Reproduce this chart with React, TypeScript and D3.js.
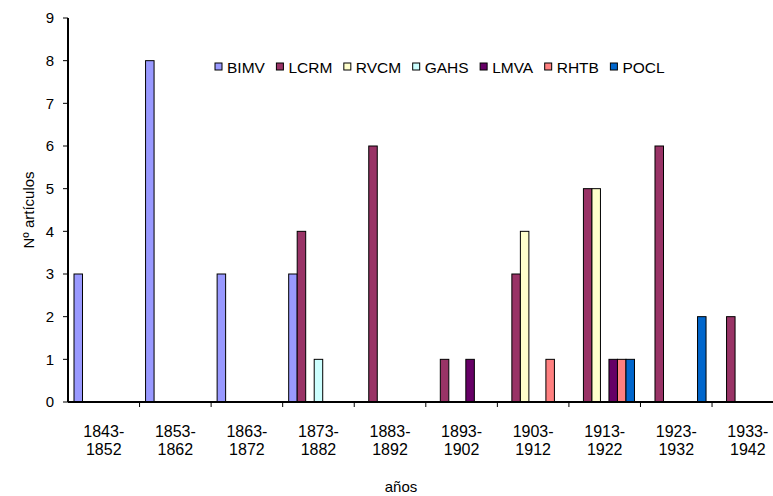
import React, { useEffect, useRef } from "react";
import * as d3 from "d3";

const categories = ["1843-1852", "1853-1862", "1863-1872", "1873-1882", "1883-1892", "1893-1902", "1903-1912", "1913-1922", "1923-1932", "1933-1942"];
const seriesNames = ["BIMV", "LCRM", "RVCM", "GAHS", "LMVA", "RHTB", "POCL"];
const seriesColors = ["#9999FF", "#993366", "#FFFFCC", "#CCFFFF", "#660066", "#FF8080", "#0066CC"];
const BIMV = [3, 8, 3, 3, 0, 0, 0, 0, 0, 0];
const LCRM = [0, 0, 0, 4, 6, 1, 3, 5, 6, 2];
const RVCM = [0, 0, 0, 0, 0, 0, 4, 5, 0, 0];
const GAHS = [0, 0, 0, 1, 0, 0, 0, 0, 0, 0];
const LMVA = [0, 0, 0, 0, 0, 1, 0, 1, 0, 0];
const RHTB = [0, 0, 0, 0, 0, 0, 1, 1, 0, 0];
const POCL = [0, 0, 0, 0, 0, 0, 0, 1, 2, 0];
const seriesValues = [BIMV, LCRM, RVCM, GAHS, LMVA, RHTB, POCL];
const yTicks = [0, 1, 2, 3, 4, 5, 6, 7, 8, 9];

const W = 773;
const H = 496;
const FONT = "'Liberation Sans', Arial, sans-serif";

export default function App() {
  const ref = useRef<SVGSVGElement>(null);
  useEffect(() => {
    const svg = d3.select(ref.current);
    svg.selectAll("*").remove();
    const left = 68;
    const catW = 71.56;
    const top = 18;
    const bottom = 402;
    const x0 = d3.scaleBand<string>().domain(categories).range([left, left + catW * categories.length]).padding(0);
    const x1 = d3.scaleBand<string>().domain(seriesNames).range([6, catW - 6]).padding(0);
    const y = d3.scaleLinear().domain([0, 9]).range([bottom, top]);

    // bars
    seriesNames.forEach((s, si) => {
      const vals = seriesValues[si];
      svg.append("g")
        .selectAll("rect")
        .data(categories.map((c, i) => ({ c, v: vals[i] })).filter((d) => d.v > 0))
        .join("rect")
        .attr("x", (d) => (x0(d.c) as number) + (x1(s) as number))
        .attr("y", (d) => y(d.v))
        .attr("width", x1.bandwidth())
        .attr("height", (d) => bottom - y(d.v))
        .attr("fill", seriesColors[si])
        .attr("stroke", "#000")
        .attr("stroke-width", 1);
    });

    // y axis
    svg.append("line").attr("x1", left).attr("x2", left).attr("y1", top).attr("y2", bottom).attr("stroke", "#000").attr("stroke-width", 2);
    const yt = svg.append("g");
    yTicks.forEach((t) => {
      yt.append("line").attr("x1", left - 5).attr("x2", left).attr("y1", y(t)).attr("y2", y(t)).attr("stroke", "#000").attr("stroke-width", 1);
      yt.append("text").attr("x", left - 14).attr("y", y(t)).attr("dy", "0.36em").attr("text-anchor", "end")
        .attr("font-family", FONT).attr("font-size", 15).attr("fill", "#000").text(String(t));
    });

    // x axis
    svg.append("line").attr("x1", left).attr("x2", W).attr("y1", bottom).attr("y2", bottom).attr("stroke", "#000").attr("stroke-width", 2);
    categories.forEach((c, i) => {
      const bx = x0(c) as number;
      if (i > 0) {
        svg.append("line").attr("x1", bx).attr("x2", bx).attr("y1", bottom).attr("y2", bottom + 5).attr("stroke", "#000").attr("stroke-width", 1);
      }
      const parts = c.split("-");
      const cx = bx + x0.bandwidth() / 2;
      const t = svg.append("text").attr("text-anchor", "middle").attr("font-family", FONT).attr("font-size", 16).attr("fill", "#000");
      t.append("tspan").attr("x", cx).attr("y", 437).text(parts[0] + "-");
      t.append("tspan").attr("x", cx).attr("y", 455).text(parts[1]);
    });

    // axis titles
    svg.append("text").attr("x", 401).attr("y", 492).attr("text-anchor", "middle").attr("font-family", FONT).attr("font-size", 15).attr("fill", "#000").text("años");
    svg.append("text").attr("transform", `translate(34,${(top + bottom) / 2}) rotate(-90)`).attr("text-anchor", "middle")
      .attr("font-family", FONT).attr("font-size", 15).attr("fill", "#000").text("Nº artículos");

    // legend
    const lg = svg.append("g");
    let lx = 215;
    const ly = 67;
    seriesNames.forEach((s, si) => {
      lg.append("rect").attr("x", lx).attr("y", ly - 4).attr("width", 7).attr("height", 7)
        .attr("fill", seriesColors[si]).attr("stroke", "#000").attr("stroke-width", 1);
      const t = lg.append("text").attr("x", lx + 12).attr("y", ly).attr("dy", "0.36em")
        .attr("font-family", FONT).attr("font-size", 15.5).attr("fill", "#000").text(s);
      const tw = (t.node() as SVGTextElement).getComputedTextLength();
      lx += 12 + tw + 11.5;
    });
  }, []);
  return (
    <svg ref={ref} width={W} height={H} style={{ position: "absolute", left: 0, top: 0, background: "#fff" }} />
  );
}
